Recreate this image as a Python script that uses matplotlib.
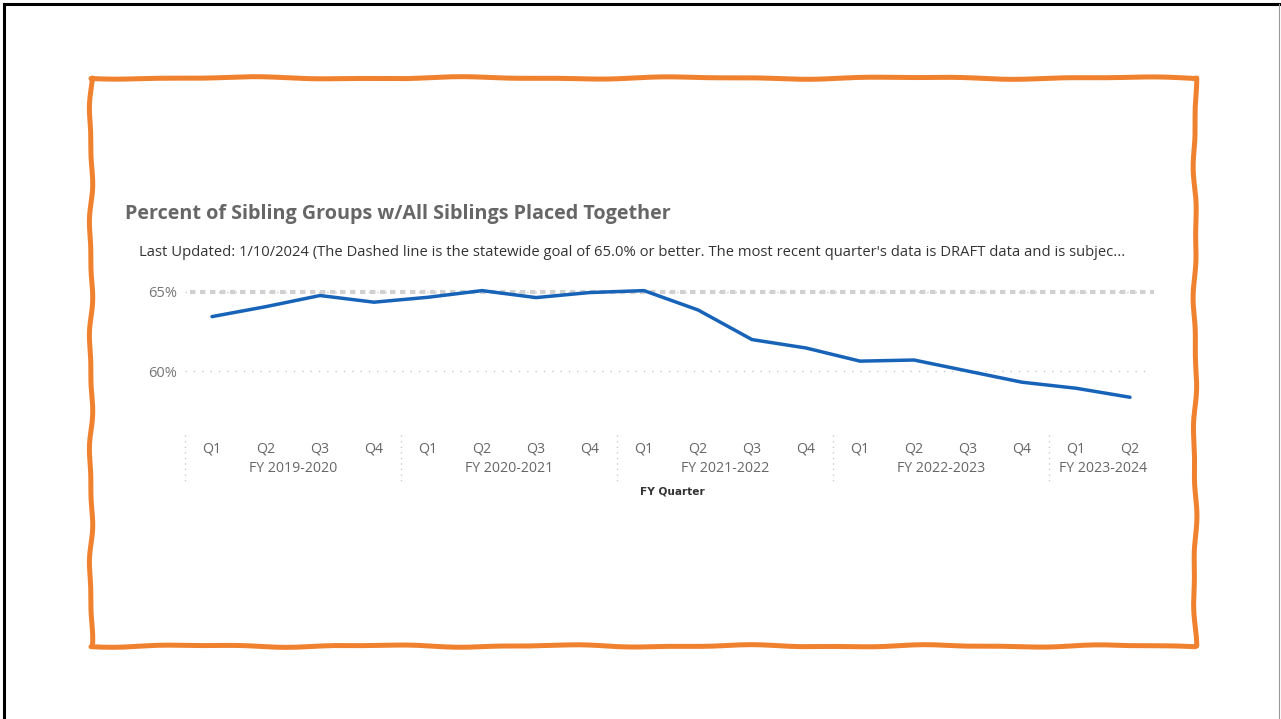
import numpy as np
import matplotlib
matplotlib.use('Agg')
import matplotlib.pyplot as plt
from matplotlib.transforms import blended_transform_factory
from matplotlib.lines import Line2D

# data
fiscal_years = ['FY 2019-2020', 'FY 2020-2021', 'FY 2021-2022', 'FY 2022-2023', 'FY 2023-2024']
quarters_per_year = [4, 4, 4, 4, 2]
quarter_names = ['Q1', 'Q2', 'Q3', 'Q4']
pct_together = [63.44, 64.07, 64.77, 64.35, 64.66, 65.08, 64.64, 64.96,
                65.08, 63.86, 61.99, 61.46, 60.63, 60.70, 60.00, 59.30,
                58.92, 58.35]
goal = 65.0
y_ticks = [60, 65]

W, H = 1281, 719
fig = plt.figure(figsize=(W / 100, H / 100), dpi=100)
fig.patch.set_facecolor('white')

# page frame
fig.add_artist(Line2D([4 / W, 4 / W], [0, 1 - 4 / H], color='black', lw=2.2))
fig.add_artist(Line2D([4 / W, 1], [1 - 4 / H, 1 - 4 / H], color='black', lw=2.2))
fig.add_artist(Line2D([1279 / W, 1279 / W], [0, 1 - 4 / H], color='#999999', lw=0.8))

# hand drawn orange box
def wobble(n, amp, f1, f2, ph):
    t = np.linspace(0, 1, n)
    return amp * (np.sin(2 * np.pi * f1 * t + ph) + 0.5 * np.sin(2 * np.pi * f2 * t + ph * 1.7))

x0, x1, y0, y1 = 91, 1195, 78, 646
n = 200
top_x = np.linspace(x0, x1, n); top_y = y0 + wobble(n, 0.9, 5, 11, 0.3)
right_y = np.linspace(y0, y1, n); right_x = x1 + wobble(n, 1.3, 4, 9, 1.1)
bot_x = np.linspace(x1, x0, n); bot_y = y1 + wobble(n, 0.9, 6, 13, 2.0)
left_y = np.linspace(y1, y0, n); left_x = x0 + wobble(n, 1.3, 5, 10, 0.7)
bx = np.concatenate([top_x, right_x, bot_x, left_x])
by = np.concatenate([top_y, right_y, bot_y, left_y])
fig.add_artist(Line2D(bx / W, 1 - by / H, color='#F0812F', lw=3.6,
                      solid_joinstyle='round', solid_capstyle='round'))

# titles
fig.text(125 / W, 1 - 214 / H, 'Percent of Sibling Groups w/All Siblings Placed Together',
         fontsize=14.2, fontweight='bold', color='#666666', family='Open Sans',
         va='center', ha='left')
fig.text(139 / W, 1 - 252 / H,
         "Last Updated: 1/10/2024 (The Dashed line is the statewide goal of 65.0% or better. "
         "The most recent quarter's data is DRAFT data and is subjec...",
         fontsize=10.6, color='#333333', family='Open Sans', va='center', ha='left')

# plot area
left, right = 185 / W, 1157 / W
top, bottom = 1 - 280 / H, 1 - 425 / H
ax = fig.add_axes([left, bottom, right - left, top - bottom])
n_pts = len(pct_together)
xs = np.arange(n_pts)
ax.set_xlim(-0.5, n_pts - 0.5)
ax.set_ylim(56.6, 65.75)
for s in ax.spines.values():
    s.set_visible(False)
ax.set_xticks([])
ax.set_yticks(y_ticks)
ax.set_yticklabels(['%d%%' % v for v in y_ticks], fontsize=10.5, color='#777777',
                   family='Open Sans')
ax.tick_params(axis='y', length=0, pad=6)
for v in y_ticks:
    ax.axhline(v, xmin=0.0, xmax=0.99, color='#c8c8c8', lw=1.0,
               ls=(0, (1, 5)), zorder=1)
ax.axhline(goal, xmin=0.005, xmax=0.997, color='#d0d0d0', lw=3.0,
           ls=(0, (1.3, 1.1)), zorder=2)
ax.plot(xs, pct_together, color='#1763B8', lw=2.5, solid_joinstyle='round',
        solid_capstyle='round', zorder=3)

# hierarchical x axis
tr = blended_transform_factory(ax.transData, fig.transFigure)
quarter_labels = []
year_centers = []
start = 0
for fy, nq in zip(fiscal_years, quarters_per_year):
    quarter_labels += quarter_names[:nq]
    year_centers.append(start + (nq - 1) / 2)
    start += nq
for i, q in enumerate(quarter_labels):
    fig.text(xs[i], 1 - 449 / H, q, transform=tr, ha='center', va='center',
             fontsize=10.2, color='#666666', family='Open Sans')
for c, fy in zip(year_centers, fiscal_years):
    fig.text(c, 1 - 468 / H, fy, transform=tr, ha='center', va='center',
             fontsize=10.2, color='#666666', family='Open Sans')
start = 0
for nq in quarters_per_year:
    fig.add_artist(Line2D([start - 0.5, start - 0.5], [1 - 435 / H, 1 - 482 / H],
                          transform=tr, color='#cccccc', lw=1.0, ls=(0, (1, 3))))
    start += nq
fig.text(672 / W, 1 - 491 / H, 'FY Quarter', ha='center', va='center',
         fontsize=7.6, fontweight='bold', color='#333333', family='DejaVu Sans')

fig.savefig('out.png', dpi=100)
